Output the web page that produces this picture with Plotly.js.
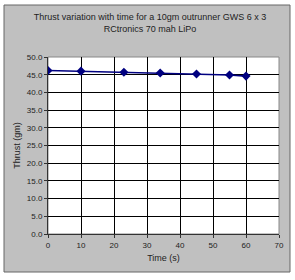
<!DOCTYPE html>
<html><head><meta charset="utf-8">
<script src="https://cdn.plot.ly/plotly-3.0.1.min.js"></script>
<style>html,body{margin:0;padding:0;background:#fff;}#chart{width:295px;height:280px;}</style>
</head><body><div id="chart"></div>
<script>
const timeS = [0, 10, 23, 34, 45, 55, 60];
const thrustGm = [46.2, 46.0, 45.7, 45.5, 45.2, 44.9, 44.6];
const titleLines = ["Thrust variation with time for a 10gm outrunner GWS 6 x 3", "RCtronics 70 mah LiPo"];

const L = 48, R = 16, T = 57, B = 46, W = 295, H = 280;
const pw = W - L - R, ph = H - T - B;
const px = v => (v - L) / pw;
const py = v => (H - B - v) / ph;

const fam = "Liberation Sans, Arial, sans-serif";
const font = {family: fam, size: 8, color: "#222"};
const tfont = {family: fam, size: 9, color: "#222"};

Plotly.newPlot("chart", [{
  x: timeS, y: thrustGm, type: "scatter", mode: "lines+markers",
  line: {color: "#000080", width: 1.6},
  marker: {symbol: "diamond", size: 7, color: "#000080"}
}], {
  width: W, height: H,
  margin: {l: L, r: R, t: T, b: B, pad: 0},
  paper_bgcolor: "rgba(0,0,0,0)", plot_bgcolor: "#fff",
  showlegend: false,
  font: font,
  title: {text: titleLines.join("<br>"), font: {family: fam, size: 9, color: "#222"}, x: 150 / W, xref: "container", xanchor: "center", y: 1 - 20 / H, yref: "container", yanchor: "top"},
  xaxis: {range: [0, 70], dtick: 10, tick0: 0, showgrid: true, gridcolor: "#000", gridwidth: 1,
    zeroline: false, showline: true, linecolor: "#333", ticks: "outside", ticklen: 3, tickcolor: "#333",
    tickfont: font, fixedrange: true,
    title: {text: "Time (s)", font: tfont, standoff: 6}},
  yaxis: {range: [0, 50], dtick: 5, tick0: 0, tickformat: ".1f", showgrid: true, gridcolor: "#000", gridwidth: 1,
    zeroline: false, showline: true, linecolor: "#333", ticks: "outside", ticklen: 3, tickcolor: "#333",
    tickfont: font, fixedrange: true,
    title: {text: "Thrust (gm)", font: tfont, standoff: 4}},
  shapes: [
    {type: "rect", xref: "paper", yref: "paper", layer: "below",
     x0: px(4), x1: px(290), y0: py(272), y1: py(5),
     fillcolor: "#c0c0c0", line: {color: "#666", width: 1}},
    {type: "rect", xref: "paper", yref: "paper", layer: "below",
     x0: 0, x1: 1, y0: 0, y1: 1, fillcolor: "#fff", line: {color: "#888", width: 1}}
  ]
}, {displayModeBar: false, staticPlot: true});
</script></body></html>
